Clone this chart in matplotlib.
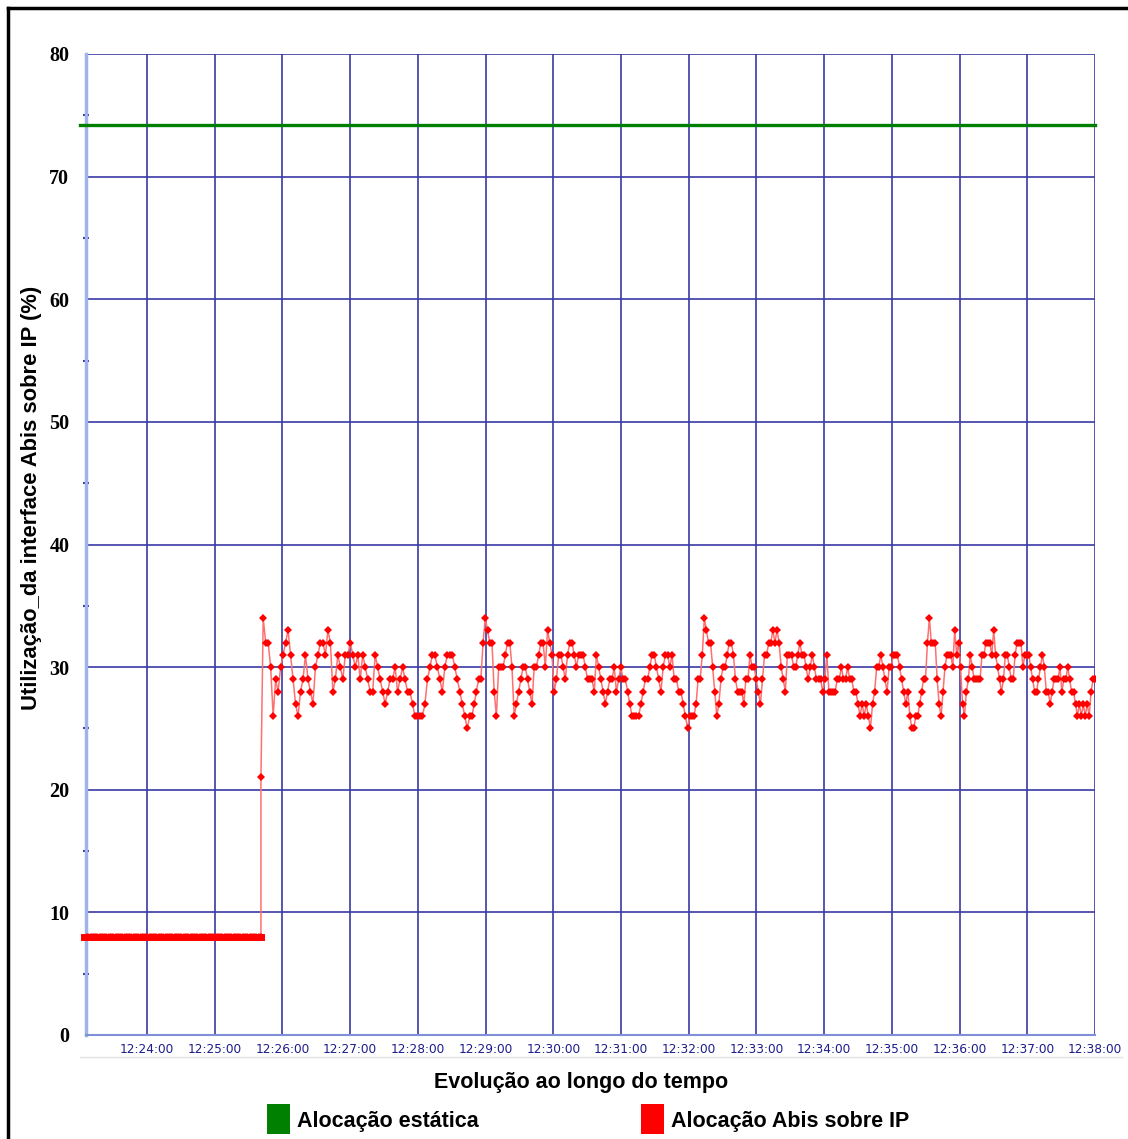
"""Utilização da interface Abis sobre IP - recriação do gráfico"""

import matplotlib
import matplotlib.pyplot as plt
import numpy as np
from matplotlib.lines import Line2D
from matplotlib.patches import Rectangle
from matplotlib.ticker import FuncFormatter, MultipleLocator

matplotlib.use("Agg")

# tempos em segundos depois das 12:00:00
t_start = 23 * 60 + 6      # 12:23:06 (borda esquerda do eixo)
t_end = 38 * 60            # 12:38:00
x_ticks = [24 * 60 + 60 * i for i in range(15)]   # 12:24:00 .. 12:38:00

# alocação estática (linha verde)
static_level = 74.2

# alocação Abis antes da mudança
low_start = 23 * 60 + 4
low_end = 25 * 60 + 41
low_values = [8] * 79
step_time = 25 * 60 + 41
step_value = 21

# alocação Abis sobre IP, em quatro trechos
seg_bounds = [25 * 60 + 43, 28 * 60 + 46, 32 * 60 + 1, 35 * 60 + 16, 38 * 60]
abis_seg1 = [34, 32, 32, 30, 26, 29, 28, 30, 31, 32, 33, 31, 29, 27, 26, 28, 29, 31, 29, 28,
             27, 30, 31, 32, 32, 31, 33, 32, 28, 29, 31, 30, 29, 31, 31, 32, 31, 30, 31, 29,
             31, 30, 29, 28, 28, 31, 30, 29, 28, 27, 28, 29, 29, 30, 28, 29, 30, 29, 28, 28,
             27, 26, 26, 26, 26, 27, 29, 30, 31, 31, 30, 29, 28, 30, 31, 31, 31, 30, 29, 28,
             27, 26, 25]
abis_seg2 = [26, 26, 27, 28, 29, 29, 32, 34, 33, 32, 32, 28, 26, 30, 30, 30, 31, 32, 32, 30,
             26, 27, 28, 29, 30, 30, 29, 28, 27, 30, 30, 31, 32, 32, 30, 33, 32, 31, 28, 29,
             31, 31, 30, 29, 31, 32, 32, 31, 30, 31, 31, 31, 30, 29, 29, 29, 28, 31, 30, 29,
             28, 27, 28, 29, 29, 30, 28, 29, 30, 29, 29, 28, 27, 26, 26, 26, 26, 27, 28, 29,
             29, 30, 31, 31, 30, 29, 28, 30, 31, 31, 30, 31, 29, 29, 28, 28, 27, 26, 25]
abis_seg3 = [26, 26, 26, 27, 29, 29, 31, 34, 33, 32, 32, 30, 28, 26, 27, 29, 30, 30, 31, 32,
             32, 31, 29, 28, 28, 28, 27, 29, 29, 31, 30, 30, 29, 28, 27, 29, 31, 31, 32, 32,
             33, 32, 33, 32, 30, 29, 28, 31, 31, 31, 30, 30, 31, 32, 31, 31, 30, 29, 30, 31,
             30, 29, 29, 29, 28, 29, 31, 28, 28, 28, 28, 29, 29, 30, 29, 29, 30, 29, 29, 28,
             28, 27, 26, 27, 26, 27, 26, 25, 27, 28, 30, 30, 31, 30, 29, 28, 30, 30, 31, 31,
             31, 30, 29, 28, 27, 28]
abis_seg4 = [26, 25, 25, 26, 26, 27, 28, 29, 29, 32, 34, 32, 32, 32, 29, 27, 26, 28, 30, 31,
             31, 31, 30, 33, 31, 32, 30, 27, 26, 28, 29, 31, 30, 29, 29, 29, 29, 31, 31, 32,
             32, 32, 31, 33, 31, 30, 29, 28, 29, 31, 31, 30, 29, 29, 31, 32, 32, 32, 30, 31,
             31, 31, 30, 29, 28, 28, 29, 30, 31, 30, 28, 28, 27, 28, 29, 29, 29, 30, 28, 29,
             29, 30, 29, 28, 28, 27, 26, 27, 26, 27, 26, 27, 26, 28, 29, 29]

title_x = "Evolução ao longo do tempo"
title_y = "Utilização_da interface Abis sobre IP (%)"
legend_labels = ["Alocação estática", "Alocação Abis sobre IP"]

GRID = "#3a3aa6"
SANS = ["Liberation Sans", "DejaVu Sans"]
SERIF = ["Liberation Serif", "DejaVu Serif"]


def fmt_time(sec, _pos=None):
    sec = int(round(sec))
    return f"12:{sec // 60:02d}:{sec % 60:02d}"


# tempos de cada trecho (amostragem uniforme dentro do trecho)
segs = [abis_seg1, abis_seg2, abis_seg3, abis_seg4]
abis_t, abis_v = [], []
for i, seg in enumerate(segs):
    last = i == len(segs) - 1
    abis_t.extend(np.linspace(seg_bounds[i], seg_bounds[i + 1], len(seg), endpoint=last))
    abis_v.extend(seg)

low_t = np.linspace(low_start, low_end, len(low_values))
red_t = list(low_t) + [step_time] + abis_t
red_v = list(low_values) + [step_value] + abis_v

W, H = 1128, 1139
fig = plt.figure(figsize=(W / 100, H / 100), dpi=100)
fig.patch.set_facecolor("white")

ax = fig.add_axes([86 / W, 1 - 1035 / H, (1095 - 86) / W, (1035 - 54) / H])
ax.set_xlim(t_start, t_end)
ax.set_ylim(0, 80)

# grade
ax.set_xticks(x_ticks)
ax.yaxis.set_major_locator(MultipleLocator(10))
ax.yaxis.set_minor_locator(MultipleLocator(5))
ax.grid(True, which="major", color=GRID, linewidth=1.2)
ax.set_axisbelow(True)

for side in ["top", "right"]:
    ax.spines[side].set_visible(False)
ax.spines["left"].set_color("#9fb3ea")
ax.spines["left"].set_linewidth(2.5)
ax.spines["bottom"].set_color("#7f8fd8")
ax.spines["bottom"].set_linewidth(1.5)

ax.xaxis.set_major_formatter(FuncFormatter(fmt_time))
ax.tick_params(axis="x", length=0, pad=6, labelsize=8.7, labelcolor="#1c1c8c")
ax.tick_params(axis="y", which="major", length=0, pad=12)
ax.tick_params(axis="y", which="minor", length=4, width=1.5, color=GRID, direction="inout")
for lab in ax.get_xticklabels():
    lab.set_family(["DejaVu Sans"])
for lab in ax.get_yticklabels():
    lab.set_family(SERIF)
    lab.set_fontweight("bold")
    lab.set_fontsize(14.5)

# séries
ax.plot([t_start - 5, t_end], [static_level, static_level], color="#008000",
        linewidth=2.4, clip_on=False, zorder=3)
ax.plot(low_t, low_values, color="#ff0000", linewidth=5, clip_on=False, zorder=4)
ax.plot(red_t, red_v, color="#ff7070", linewidth=1.1, zorder=4)
ax.plot(red_t, red_v, linestyle="none", marker="D", markersize=4.4,
        color="#ff0000", markeredgewidth=0, zorder=5)

ax.set_xlabel(title_x, fontsize=15.5, fontweight="bold", family=SANS)
ax.xaxis.set_label_coords((581 - 86) / (1095 - 86), -(1072 - 1035) / (1035 - 54))
ax.set_ylabel(title_y, fontsize=15.8, fontweight="bold", family=SANS)
ax.yaxis.set_label_coords(-(86 - 42) / (1095 - 86), (1035 - 498) / (1035 - 54))

# linha cinza abaixo dos rótulos de tempo
fig.add_artist(Line2D([80 / W, 1122 / W], [1 - 1057 / H] * 2, color="#e2e2e2", linewidth=1))

# moldura preta (esquerda e topo)
fig.add_artist(Line2D([8 / W, 8 / W], [0, 1 - 8 / H], color="black", linewidth=2.5))
fig.add_artist(Line2D([8 / W, 1], [1 - 8 / H] * 2, color="black", linewidth=2.5))

# legenda
legend_colors = ["#008000", "#ff0000"]
legend_x = [267, 641]
for lx, col, lab in zip(legend_x, legend_colors, legend_labels):
    fig.add_artist(Rectangle((lx / W, 1 - 1134 / H), 23 / W, 30 / H,
                             facecolor=col, edgecolor="none", transform=fig.transFigure))
    fig.text((lx + 30) / W, 1 - 1122 / H, lab, fontsize=15.5, fontweight="bold",
             family=SANS, va="center", ha="left")

fig.savefig("out.png", dpi=100, facecolor="white")
